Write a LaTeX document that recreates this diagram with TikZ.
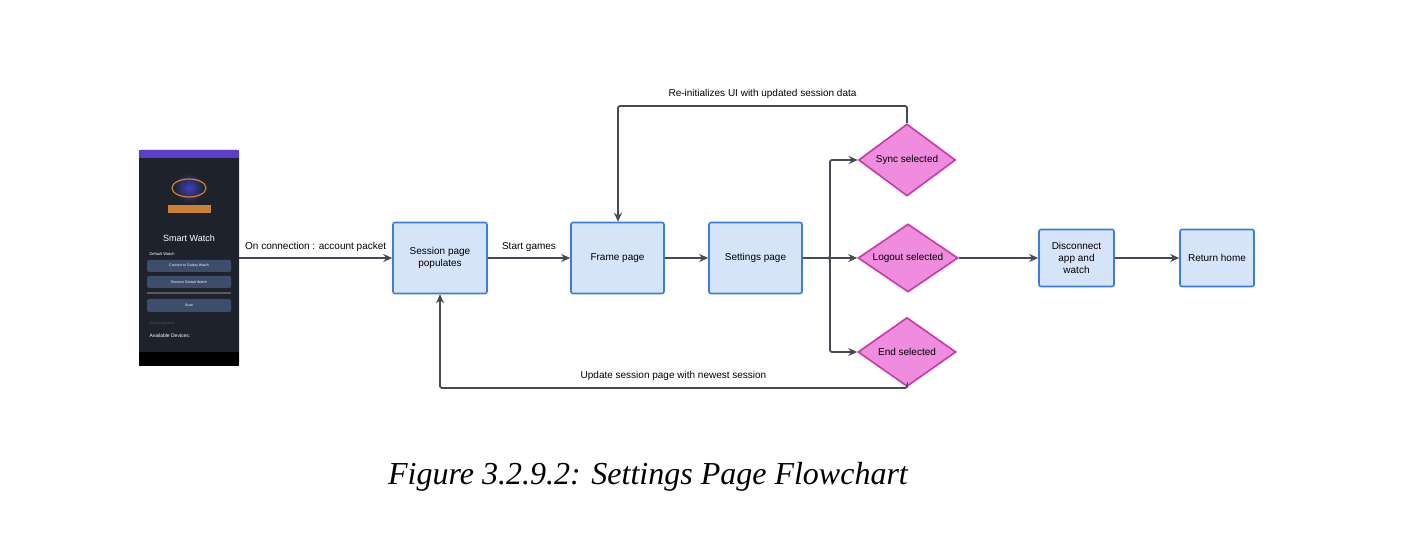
\documentclass[tikz,border=0pt]{standalone}
\usepackage{fontspec}
\setmainfont{Liberation Sans}
\newfontfamily\capfont{Liberation Serif}
\usetikzlibrary{shapes.geometric,arrows.meta}
\definecolor{bfill}{HTML}{D6E4FA}
\definecolor{bdraw}{HTML}{3B7DDD}
\definecolor{dfill}{HTML}{EF8CDD}
\definecolor{ddraw}{HTML}{C838A8}
\definecolor{ln}{HTML}{454B54}
\definecolor{ph}{HTML}{1E232B}
\definecolor{phb}{HTML}{3E4D6C}
\definecolor{phtop}{HTML}{5B3FC8}
\begin{document}
\begin{tikzpicture}[x=1pt,y=-1pt,
 box/.style={draw=bdraw,fill=bfill,line width=1.6pt,rounded corners=2pt,align=center,font=\fontsize{10}{12}\selectfont,inner sep=0pt},
 dia/.style={diamond,draw=ddraw,fill=dfill,line width=1.6pt,align=center,font=\fontsize{10}{12}\selectfont,inner sep=0pt,aspect=1.4},
 arr/.style={draw=ln,line width=1.8pt,-{Stealth[length=9pt,width=8pt]}},
 lbl/.style={font=\fontsize{10}{12}\selectfont,text=black}]
\useasboundingbox (0,0) rectangle (1408,534);
% phone
\node[fill=ph,rounded corners=2pt,minimum width=100pt,minimum height=216pt,inner sep=0pt] (phone) at (189,258) {};
\fill[phtop] (139,150) rectangle (239,158);
\fill[black] (139,352) rectangle (239,366);
\node[font=\fontsize{9}{10}\selectfont,text=white] at (189,238) {Smart Watch};
\shade[inner color=blue!50!gray,outer color=ph] (189,188) circle (15);
\draw[orange!70!gray,line width=1.2pt] (189,188) ellipse (17 and 9);
\fill[orange!60!gray] (168,205) rectangle (211,213);
\node[font=\fontsize{4}{5}\selectfont,text=white,anchor=west] at (146,254) {Default Watch};
\fill[phb,rounded corners=1.5pt] (147,260) rectangle (231,272);
\fill[phb,rounded corners=1.5pt] (147,276) rectangle (231,288);
\fill[gray!60!ph] (147,292) rectangle (231,294);
\fill[phb,rounded corners=1.5pt] (147,299) rectangle (231,312);
\node[font=\fontsize{3.5}{4}\selectfont,text=white] at (189,266) {Connect to Galaxy Watch};
\node[font=\fontsize{3.5}{4}\selectfont,text=white] at (189,282) {Remove Default Watch};
\node[font=\fontsize{3.5}{4}\selectfont,text=white] at (189,305.5) {Scan};
\node[font=\fontsize{4}{5}\selectfont,text=gray!50!ph,anchor=west] at (146,323) {Disconnected};
\node[font=\fontsize{5}{6}\selectfont,text=white,anchor=west] at (146,336) {Available Devices:};
% boxes
\node[box,minimum width=94pt,minimum height=71pt] (sess) at (440,258) {Session page\\populates};
\node[box,minimum width=93pt,minimum height=71pt] (frame) at (617.5,258) {Frame page};
\node[box,minimum width=93pt,minimum height=71pt] (sett) at (755.5,258) {Settings page};
\node[box,minimum width=75pt,minimum height=57pt] (disc) at (1076.5,258) {Disconnect\\app and\\watch};
\node[box,minimum width=74pt,minimum height=57pt] (ret) at (1217,258) {Return home};
\node[dia,minimum width=97pt,minimum height=72pt] (sync) at (907,160) {Sync selected};
\node[dia,minimum width=100pt,minimum height=68pt] (logout) at (908,258) {Logout selected};
\node[dia,minimum width=98pt,minimum height=69pt] (endn) at (907,352) {End selected};
% connectors
\draw[arr] (phone.east) -- node[lbl,above=2pt]{On connection : account packet} (sess.west);
\draw[arr] (sess.east) -- node[lbl,above=2pt]{Start games} (frame.west);
\draw[arr] (frame) -- (sett);
\coordinate (split) at (830,258);
\draw[arr] (sett.east) -- (logout.west);
\draw[arr,rounded corners=2pt] (sett.east) -- (split) |- (sync.west);
\draw[arr,rounded corners=2pt] (sett.east) -- (split) |- (endn.west);
\draw[arr,rounded corners=2pt] (sync.north) -- (907,106) -- node[lbl,above=3pt]{Re-initializes UI with updated session data} (618,106) -- (frame.north -| 618,0);
\draw[arr,rounded corners=2pt] (endn.south) -- (907,388) -- node[lbl,above=3pt]{Update session page with newest session} (440,388) -- (sess.south);
\draw[arr] (logout.east) -- (disc.west);
\draw[arr] (disc.east) -- (ret.west);
\node[font=\capfont\itshape\fontsize{32}{36}\selectfont] (cap) at (648,477) {Figure 3.2.9.2: Settings Page Flowchart};
\end{tikzpicture}
\end{document}
